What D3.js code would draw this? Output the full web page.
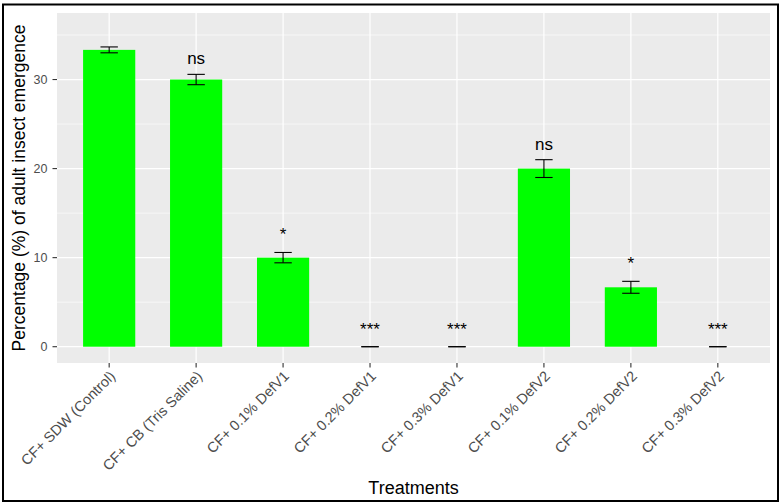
<!DOCTYPE html>
<html>
<head>
<meta charset="utf-8">
<script src="https://cdn.jsdelivr.net/npm/d3@7/dist/d3.min.js"></script>
<style>
  html, body { margin: 0; padding: 0; background: #fff; }
  svg { display: block; font-family: "Liberation Sans", Arial, Helvetica, sans-serif; }
</style>
</head>
<body>
<svg id="chart" width="783" height="504"></svg>
<script>
// ---- data ----
const categories = [
  "CF+ SDW (Control)",
  "CF+ CB (Tris Saline)",
  "CF+ 0.1% DefV1",
  "CF+ 0.2% DefV1",
  "CF+ 0.3% DefV1",
  "CF+ 0.1% DefV2",
  "CF+ 0.2% DefV2",
  "CF+ 0.3% DefV2"
];
const means = [33.33, 30.0, 10.0, 0, 0, 20.0, 6.67, 0];
const errors = [0.33, 0.58, 0.58, 0, 0, 1.0, 0.67, 0];
const signif = ["", "ns", "*", "***", "***", "ns", "*", "***"];
const yTicks = [0, 10, 20, 30];
const yMinorTicks = [5, 15, 25, 35];
const yDomain = [-1.83, 37.47];

// ---- layout ----
const svg = d3.select("#chart");
const panel = { left: 57, right: 770, top: 13, bottom: 363 };

// ggplot discrete expansion: 0.6 units on each side
const x = d3.scalePoint()
  .domain(categories)
  .range([panel.left, panel.right])
  .padding(0.6);
const step = x.step();
const cx = d => x(d);
const barW = 0.6 * step;
const errW = 0.2 * step;

const y = d3.scaleLinear().domain(yDomain).range([panel.bottom, panel.top]);

// outer border
svg.append("rect")
  .attr("x", 3).attr("y", 4.5).attr("width", 775).attr("height", 496.5)
  .attr("fill", "none").attr("stroke", "#000").attr("stroke-width", 2);

// panel background
svg.append("rect")
  .attr("x", panel.left).attr("y", panel.top)
  .attr("width", panel.right - panel.left).attr("height", panel.bottom - panel.top)
  .attr("fill", "#EBEBEB");

// minor grid
svg.append("g").selectAll("line").data(yMinorTicks).join("line")
  .attr("x1", panel.left).attr("x2", panel.right)
  .attr("y1", d => y(d)).attr("y2", d => y(d))
  .attr("stroke", "#fff").attr("stroke-width", 0.6);

// major grid
svg.append("g").selectAll("line").data(yTicks).join("line")
  .attr("x1", panel.left).attr("x2", panel.right)
  .attr("y1", d => y(d)).attr("y2", d => y(d))
  .attr("stroke", "#fff").attr("stroke-width", 1.2);
svg.append("g").selectAll("line").data(categories).join("line")
  .attr("x1", d => cx(d)).attr("x2", d => cx(d))
  .attr("y1", panel.top).attr("y2", panel.bottom)
  .attr("stroke", "#fff").attr("stroke-width", 1.2);

// bars
svg.append("g").selectAll("rect").data(categories).join("rect")
  .attr("x", d => cx(d) - barW / 2)
  .attr("width", barW)
  .attr("y", (d, i) => y(means[i]))
  .attr("height", (d, i) => y(0) - y(means[i]))
  .attr("fill", "#00FF00");

// error bars
const eg = svg.append("g").attr("stroke", "#000").attr("stroke-width", 1.1).attr("fill", "none");
categories.forEach((d, i) => {
  const lo = y(means[i] - errors[i]), hi = y(means[i] + errors[i]);
  const c = cx(d);
  eg.append("line").attr("x1", c - errW / 2).attr("x2", c + errW / 2).attr("y1", hi).attr("y2", hi);
  eg.append("line").attr("x1", c - errW / 2).attr("x2", c + errW / 2).attr("y1", lo).attr("y2", lo);
  if (errors[i] > 0) eg.append("line").attr("x1", c).attr("x2", c).attr("y1", hi).attr("y2", lo);
});

// significance labels
svg.append("g").selectAll("text").data(categories).join("text")
  .attr("x", d => cx(d))
  .attr("y", (d, i) => y(means[i] + errors[i]) - (signif[i] === "ns" ? 10 : 12))
  .attr("text-anchor", "middle")
  .attr("font-size", 17)
  .attr("fill", "#000")
  .text((d, i) => signif[i]);

// y axis ticks + labels
const ya = svg.append("g");
ya.selectAll("line").data(yTicks).join("line")
  .attr("x1", panel.left - 4.5).attr("x2", panel.left)
  .attr("y1", d => y(d)).attr("y2", d => y(d))
  .attr("stroke", "#333").attr("stroke-width", 1.1);
ya.selectAll("text").data(yTicks).join("text")
  .attr("x", panel.left - 9.5).attr("y", d => y(d))
  .attr("dy", "0.36em")
  .attr("text-anchor", "end")
  .attr("font-size", 12.5)
  .attr("fill", "#4D4D4D")
  .text(d => d);

// x axis ticks + labels
const xa = svg.append("g");
xa.selectAll("line").data(categories).join("line")
  .attr("x1", d => cx(d)).attr("x2", d => cx(d))
  .attr("y1", panel.bottom).attr("y2", panel.bottom + 4.5)
  .attr("stroke", "#333").attr("stroke-width", 1.1);
xa.selectAll("text").data(categories).join("text")
  .attr("transform", d => `translate(${cx(d) + 7},${panel.bottom + 14}) rotate(-45)`)
  .attr("text-anchor", "end")
  .attr("font-size", 14.5)
  .attr("fill", "#4D4D4D")
  .text(d => d);

// axis titles
svg.append("text")
  .attr("x", (panel.left + panel.right) / 2).attr("y", 494)
  .attr("text-anchor", "middle")
  .attr("font-size", 18)
  .attr("fill", "#000")
  .text("Treatments");
svg.append("text")
  .attr("transform", `translate(25,${(panel.top + panel.bottom) / 2}) rotate(-90)`)
  .attr("text-anchor", "middle")
  .attr("font-size", 17.5)
  .attr("fill", "#000")
  .text("Percentage (%) of adult insect emergence");
</script>
</body>
</html>
